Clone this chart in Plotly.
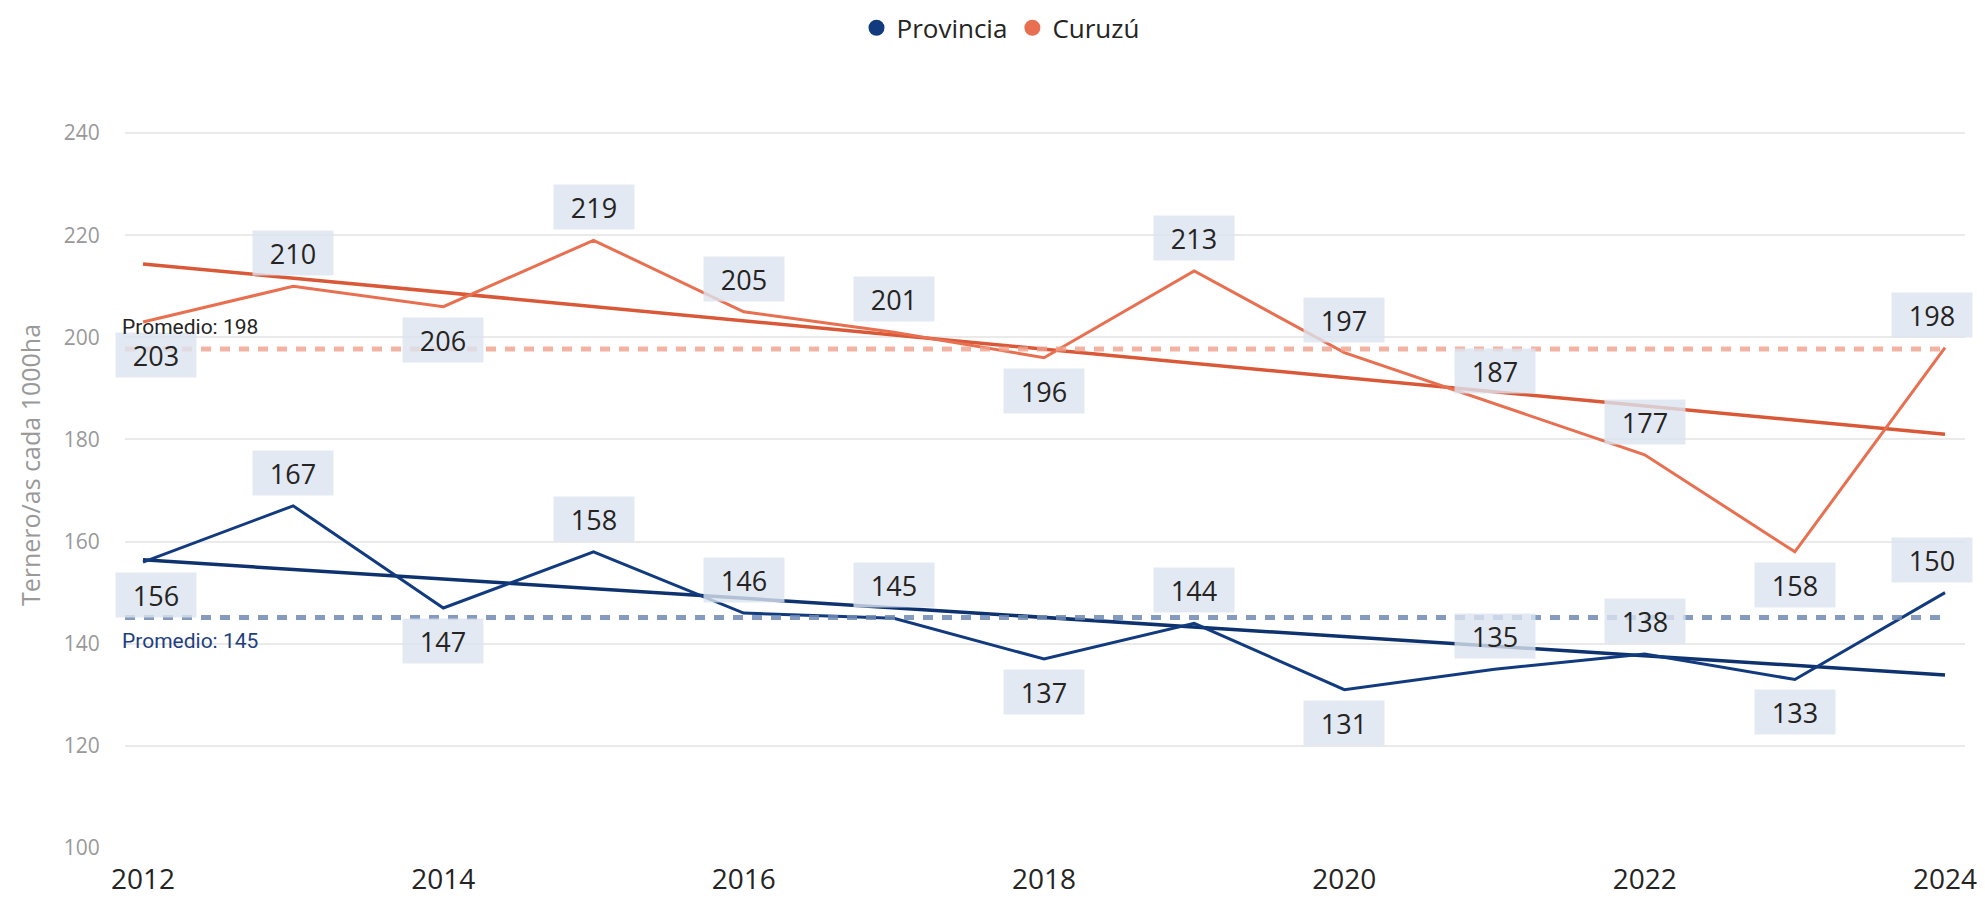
import numpy as np
import plotly.graph_objects as go

# Datos: terneros/as cada 1000 ha
years = [2012, 2013, 2014, 2015, 2016, 2017, 2018, 2019, 2020, 2021, 2022, 2023, 2024]
provincia = [156, 167, 147, 158, 146, 145, 137, 144, 131, 135, 138, 133, 150]
curuzu = [203, 210, 206, 219, 205, 201, 196, 213, 197, 187, 177, 158, 198]
y_ticks = [100, 120, 140, 160, 180, 200, 220, 240]
x_ticks = [2012, 2014, 2016, 2018, 2020, 2022, 2024]

# where each data label sits relative to its point
prov_label_side = ['down', 'up', 'down', 'up', 'up', 'up', 'down', 'up', 'down', 'up', 'up', 'down', 'up']
curu_label_side = ['down', 'up', 'down', 'up', 'up', 'up', 'down', 'up', 'up', 'up', 'up', 'down', 'up']

PROV_COLOR = '#123B7F'
PROV_TREND = '#0E326E'
PROV_AVG = 'rgba(110,138,180,0.85)'
CURU_COLOR = '#E86F50'
CURU_TREND = '#D95838'
CURU_AVG = 'rgba(240,160,140,0.8)'
LABEL_BG = 'rgba(220,228,239,0.8)'

fig = go.Figure()

# average lines
prov_mean = np.mean(provincia)
curu_mean = np.mean(curuzu)
for m, col in [(curu_mean, CURU_AVG), (prov_mean, PROV_AVG)]:
    fig.add_shape(type='line', xref='paper', yref='y', x0=0, x1=0.99, y0=m, y1=m,
                  line=dict(color=col, width=5, dash='10px,9px'), layer='above')

# trend lines (linear fit)
for vals, col in [(curuzu, CURU_TREND), (provincia, PROV_TREND)]:
    slope, intercept = np.polyfit(years, vals, 1)
    xs = [years[0], years[-1]]
    fig.add_trace(go.Scatter(x=xs, y=[slope * x + intercept for x in xs], mode='lines',
                             line=dict(color=col, width=3.5), showlegend=False, hoverinfo='skip'))

# data lines
fig.add_trace(go.Scatter(x=years, y=curuzu, mode='lines', line=dict(color=CURU_COLOR, width=3),
                         name='Curuzú', showlegend=False))
fig.add_trace(go.Scatter(x=years, y=provincia, mode='lines', line=dict(color=PROV_COLOR, width=3),
                         name='Provincia', showlegend=False))

# legend entries with round markers
fig.add_trace(go.Scatter(x=[None], y=[None], mode='markers', name='Provincia',
                         marker=dict(color=PROV_COLOR, size=18)))
fig.add_trace(go.Scatter(x=[None], y=[None], mode='markers', name='Curuzú',
                         marker=dict(color=CURU_COLOR, size=18)))

# data labels
for vals, sides in [(curuzu, curu_label_side), (provincia, prov_label_side)]:
    for i, (yr, v, s) in enumerate(zip(years, vals, sides)):
        xshift = 0
        if i == 0:
            xshift = 13
        elif i == len(years) - 1:
            xshift = -13
        fig.add_annotation(x=yr, y=v, text=str(v), showarrow=False,
                           yshift=33 if s == 'up' else -33, xshift=xshift,
                           width=78, height=42, bgcolor=LABEL_BG,
                           font=dict(family='Open Sans', size=27, color='#252423'))

# average labels
fig.add_annotation(xref='paper', x=0, y=curu_mean, xanchor='left', xshift=-5, yshift=22,
                   text='Promedio: 198', showarrow=False,
                   font=dict(family='Roboto', size=21, color='#252423'))
fig.add_annotation(xref='paper', x=0, y=prov_mean, xanchor='left', xshift=-5, yshift=-24,
                   text='Promedio: 145', showarrow=False,
                   font=dict(family='Roboto', size=21, color='#1F3F7F'))

fig.update_layout(
    width=1985, height=901,
    margin=dict(l=117, r=28, t=74, b=50),
    paper_bgcolor='white', plot_bgcolor='white',
    font=dict(family='Open Sans'),
    legend=dict(orientation='h', x=0.5, xanchor='center', xref='container',
                y=0.978, yanchor='middle', yref='container',
                font=dict(size=26, color='#252423'), itemwidth=30),
    xaxis=dict(range=[2011.88, 2024.133], tickvals=x_ticks, showgrid=False, zeroline=False,
               tickfont=dict(size=28, color='#252423'), ticks='outside', ticklen=6,
               tickcolor='rgba(0,0,0,0)'),
    yaxis=dict(range=[100, 250], tickvals=y_ticks, gridcolor='#EAEAEA', gridwidth=1.5,
               zeroline=False, tickfont=dict(size=21, color='#999999'),
               ticks='outside', ticklen=20, tickcolor='rgba(0,0,0,0)',
               title=dict(text='Ternero/as cada 1000ha', standoff=16,
                          font=dict(size=25, color='#999999'))),
)

fig.write_html("out.html")
